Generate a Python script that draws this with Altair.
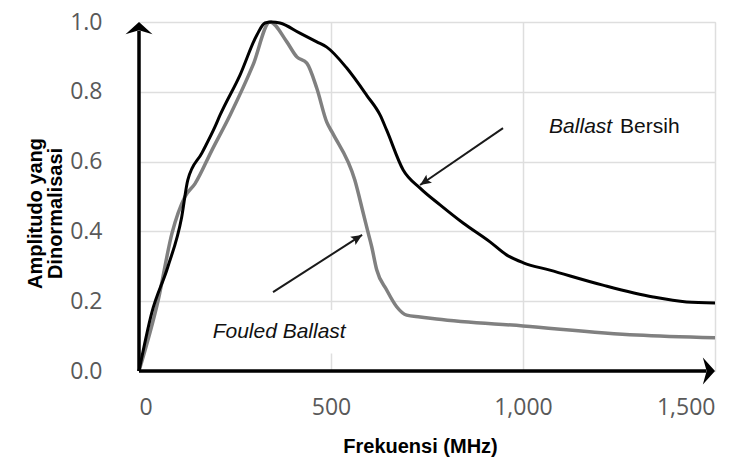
import math
import altair as alt
import pandas as pd

# ---- data ----
freq_clean = [0, 33, 75, 111, 127, 164, 198, 211, 263, 307, 328, 345, 367, 419, 463, 489,
              541, 593, 628, 645, 688, 732, 784, 844, 914, 958, 1001, 1070, 1208, 1339, 1426, 1500]
amp_clean = [0.0, 0.166, 0.298, 0.44, 0.547, 0.625, 0.70, 0.733, 0.848, 0.963, 0.997, 1.0, 0.997, 0.968, 0.943, 0.928,
             0.868, 0.79, 0.733, 0.69, 0.576, 0.524, 0.476, 0.424, 0.37, 0.332, 0.31, 0.289, 0.246, 0.212, 0.198, 0.195]

freq_fouled = [0, 50, 86, 120, 146, 190, 237, 297, 341, 385, 411, 437, 463, 489, 505, 562, 584, 597, 606,
               619, 645, 671, 697, 732, 775, 1000, 1296, 1500]
amp_fouled = [0.0, 0.203, 0.395, 0.5, 0.537, 0.633, 0.733, 0.877, 1.0, 0.943, 0.9, 0.882, 0.81, 0.713, 0.68, 0.547, 0.452, 0.395, 0.356,
              0.29, 0.232, 0.184, 0.16, 0.155, 0.149, 0.129, 0.103, 0.095]

x_ticks = [0, 500, 1000, 1500]
y_ticks = [0.0, 0.2, 0.4, 0.6, 0.8, 1.0]

x_title = "Frekuensi (MHz)"
y_title = ["Amplitudo yang", "Dinormalisasi"]

# annotation arrows: tail -> head (data units)
arrow_x = [948, 349]
arrow_y = [0.696, 0.226]
arrow_x2 = [732, 581]
arrow_y2 = [0.533, 0.39]

label_clean_x = [1068]
label_clean_y = [0.699]
label_fouled_x = [365]
label_fouled_y = [0.112]
mask_x = [190]
mask_x2 = [560]
mask_y = [0.05]
mask_y2 = [0.175]

W, H = 576, 349
XMAX, YMAX = 1500, 1.0

xs = alt.Scale(domain=[0, XMAX], nice=False, zero=False)
ys = alt.Scale(domain=[0, YMAX], nice=False)

clean_df = pd.DataFrame({"f": freq_clean, "a": amp_clean})
fouled_df = pd.DataFrame({"f": freq_fouled, "a": amp_fouled})

angles = []
for x1, y1, x2, y2 in zip(arrow_x, arrow_y, arrow_x2, arrow_y2):
    dxp = (x2 - x1) / XMAX * W
    dyp = -(y2 - y1) / YMAX * H
    angles.append((math.degrees(math.atan2(dxp, -dyp)) + 360) % 360)
arrow_df = pd.DataFrame({"x": arrow_x, "y": arrow_y, "x2": arrow_x2, "y2": arrow_y2, "ang": angles})

x_axis = alt.Axis(values=x_ticks, format=",.0f", grid=True, gridColor="#dedede", gridWidth=1.5,
                  domain=False, ticks=False, labelFont="Open Sans", labelFontSize=23,
                  labelColor="#595959", labelPadding=25, title=x_title,
                  titleFont="Liberation Sans", titleFontSize=20, titleFontWeight="bold",
                  titleColor="#000000", titleX=281, titleY=81, titleBaseline="alphabetic")
y_axis = alt.Axis(values=y_ticks, format=".1f", grid=True, gridColor="#dedede", gridWidth=1.5,
                  domain=False, ticks=False, labelFont="Open Sans", labelFontSize=23,
                  labelColor="#595959", labelPadding=37, title=y_title,
                  titleFont="Liberation Sans", titleFontSize=20, titleFontWeight="bold",
                  titleColor="#000000", titleX=-104, titleY=191, titleBaseline="middle",
                  titleAlign="center", titleLineHeight=20)

mask = alt.Chart(pd.DataFrame({"x": mask_x, "x2": mask_x2, "y": mask_y, "y2": mask_y2})).mark_rect(
    color="white").encode(
    x=alt.X("x:Q", scale=xs, axis=x_axis), x2="x2", y=alt.Y("y:Q", scale=ys, axis=y_axis), y2="y2")

gray_line = alt.Chart(fouled_df).mark_line(color="#808080", strokeWidth=3.5, interpolate="monotone").encode(
    x=alt.X("f:Q", scale=xs), y=alt.Y("a:Q", scale=ys))
black_line = alt.Chart(clean_df).mark_line(color="#000000", strokeWidth=3, interpolate="monotone").encode(
    x=alt.X("f:Q", scale=xs), y=alt.Y("a:Q", scale=ys))

axis_df = pd.DataFrame({"x": [0, 0], "y": [0, 0], "x2": [0, XMAX * 0.985], "y2": [YMAX * 0.975, 0]})
axis_lines = alt.Chart(axis_df).mark_rule(color="#000000", strokeWidth=3.5).encode(
    x=alt.X("x:Q", scale=xs), y=alt.Y("y:Q", scale=ys), x2="x2", y2="y2")

up_head = alt.Chart(pd.DataFrame({"x": [0], "y": [YMAX]})).mark_point(
    shape="M0,0 L-1,0.9 L0,0.62 L1,0.9 Z", size=729, filled=True, color="#000000", opacity=1).encode(
    x=alt.X("x:Q", scale=xs), y=alt.Y("y:Q", scale=ys))
right_head = alt.Chart(pd.DataFrame({"x": [XMAX], "y": [0]})).mark_point(
    shape="M0,0 L-0.9,-1 L-0.62,0 L-0.9,1 Z", size=729, filled=True, color="#000000", opacity=1).encode(
    x=alt.X("x:Q", scale=xs), y=alt.Y("y:Q", scale=ys))

arrows = alt.Chart(arrow_df).mark_rule(color="#1a1a1a", strokeWidth=2).encode(
    x=alt.X("x:Q", scale=xs), y=alt.Y("y:Q", scale=ys), x2="x2", y2="y2")
arrow_heads = alt.Chart(arrow_df).mark_point(
    shape="M0,0 L-0.45,1 L0,0.8 L0.45,1 Z", size=484, filled=True, color="#1a1a1a", opacity=1).encode(
    x=alt.X("x2:Q", scale=xs), y=alt.Y("y2:Q", scale=ys), angle=alt.Angle("ang:Q", scale=None))

clean_df_lbl = pd.DataFrame({"x": label_clean_x, "y": label_clean_y})
txt_ballast = alt.Chart(clean_df_lbl).mark_text(
    text="Ballast", align="left", baseline="middle", font="Liberation Sans", fontSize=21,
    fontStyle="italic", color="#111111").encode(x=alt.X("x:Q", scale=xs), y=alt.Y("y:Q", scale=ys))
txt_bersih = alt.Chart(clean_df_lbl).mark_text(
    text="Bersih", align="left", baseline="middle", font="Liberation Sans", fontSize=21,
    dx=71, color="#111111").encode(x=alt.X("x:Q", scale=xs), y=alt.Y("y:Q", scale=ys))
txt_fouled = alt.Chart(pd.DataFrame({"x": label_fouled_x, "y": label_fouled_y})).mark_text(
    text="Fouled Ballast", align="center", baseline="middle", font="Liberation Sans", fontSize=21,
    fontStyle="italic", color="#111111").encode(x=alt.X("x:Q", scale=xs), y=alt.Y("y:Q", scale=ys))

chart = alt.layer(mask, gray_line, black_line, axis_lines, up_head, right_head, arrows, arrow_heads,
                  txt_ballast, txt_bersih, txt_fouled).properties(
    width=W, height=H, autosize=alt.AutoSizeParams(type="none"),
    padding={"left": 139, "top": 22, "right": 35, "bottom": 86}
).configure_view(stroke=None).configure(background="white")

chart.save("out.html", embed_options={"renderer": "svg", "actions": False})
